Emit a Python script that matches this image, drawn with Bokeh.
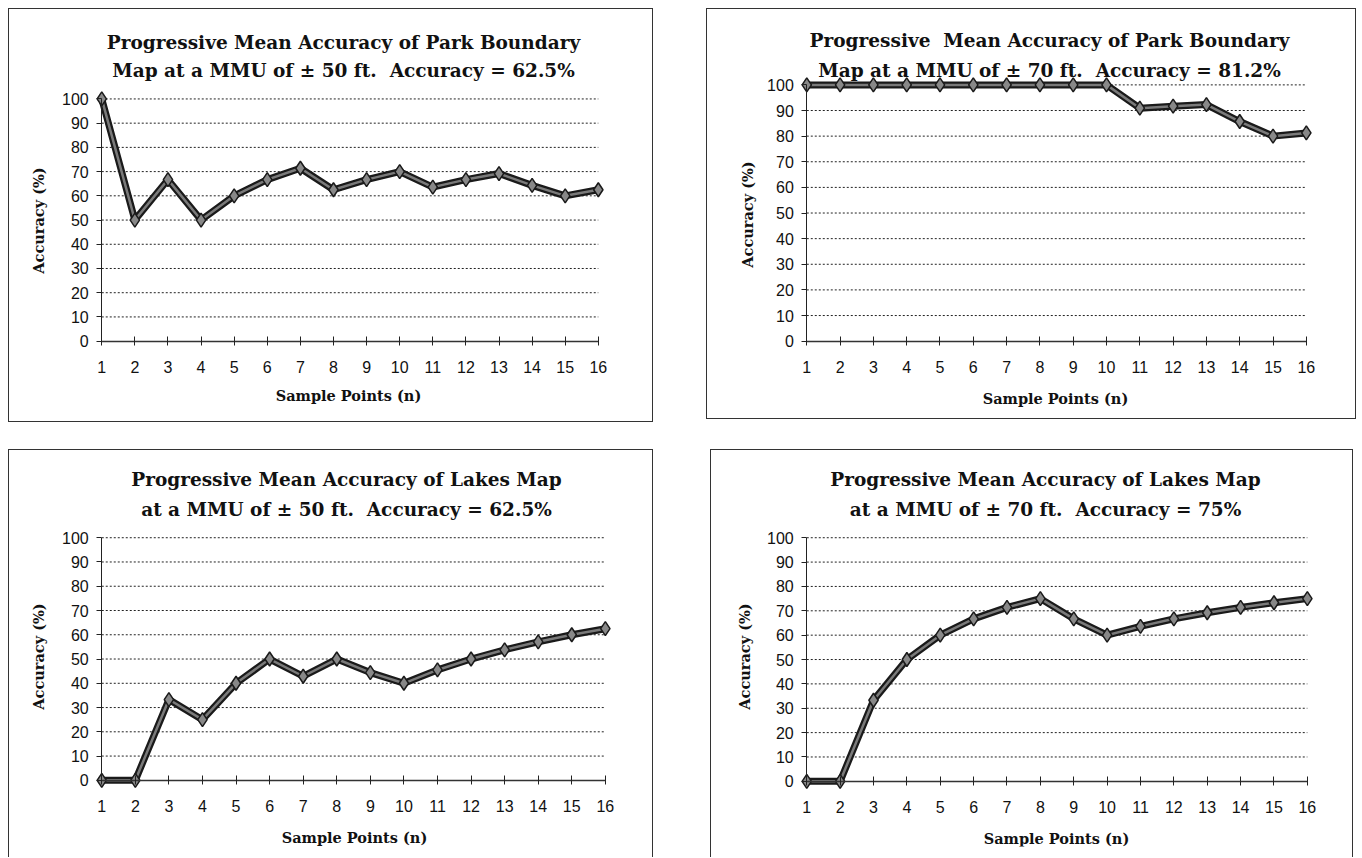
from bokeh.plotting import figure
from bokeh.models import Range1d, FixedTicker, Label, LinearAxis
from bokeh.core.properties import value
from bokeh.embed import file_html
from bokeh.resources import INLINE

# ---------------- data ----------------
sample_points = list(range(1, 17))
x_tick_labels = [str(v) for v in sample_points]
y_ticks = [0, 10, 20, 30, 40, 50, 60, 70, 80, 90, 100]
y_tick_labels = [str(v) for v in y_ticks]

park_50 = [100, 50, 66.7, 50, 60, 66.7, 71.4, 62.5, 66.7, 70, 63.6, 66.7, 69.2, 64.3, 60, 62.5]
park_70 = [100, 100, 100, 100, 100, 100, 100, 100, 100, 100, 90.9, 91.7, 92.3, 85.7, 80, 81.25]
lakes_50 = [0, 0, 33.3, 25, 40, 50, 42.9, 50, 44.4, 40, 45.5, 50, 53.8, 57.1, 60, 62.5]
lakes_70 = [0, 0, 33.3, 50, 60, 66.7, 71.4, 75, 66.7, 60, 63.6, 66.7, 69.2, 71.4, 73.3, 75]

NB = "\u00a0"
titles = [
    ("Progressive Mean Accuracy of Park Boundary", "Map at a MMU of \u00b1 50 ft." + NB + " Accuracy = 62.5%"),
    ("Progressive" + NB + " Mean Accuracy of Park Boundary", "Map at a MMU of \u00b1 70 ft." + NB + " Accuracy = 81.2%"),
    ("Progressive Mean Accuracy of Lakes Map", "at a MMU of \u00b1 50 ft." + NB + " Accuracy = 62.5%"),
    ("Progressive Mean Accuracy of Lakes Map", "at a MMU of \u00b1 70 ft." + NB + " Accuracy = 75%"),
]
x_title = "Sample Points (n)"
y_title = "Accuracy (%)"

SERIF = "DejaVu Serif"
SANS = "Liberation Sans"
INK = "#1a1a1a"
L_BORDER, B_BORDER = 12, 12   # small side panels holding only the axis lines/ticks


def make_panel(values, t1, t2, box, frame, title_pos, ylab_pos, xlab_pos, bottom_open=False):
    bl, bt, bw, bh = box              # panel box on page
    x1px, x16px, y100px, y0px = frame  # where x=1, x=16, y=100, y=0 land on page
    pxu = (x16px - x1px) / 15.0
    pyu = (y0px - y100px) / 100.0
    fl = bl + 1 + L_BORDER
    fr = bl + bw - 1
    ft = bt + 1
    fb = bt + bh - (0 if bottom_open else 1) - B_BORDER

    p = figure(width=bw, height=bh, output_backend="svg", toolbar_location=None,
               x_axis_type=None, y_axis_type=None, title=None,
               x_range=Range1d(1 - (x1px - fl) / pxu, 16 + (fr - x16px) / pxu),
               y_range=Range1d(0 - (fb - y0px) / pyu, 100 + (y100px - ft) / pyu),
               min_border_left=L_BORDER, min_border_right=0,
               min_border_top=0, min_border_bottom=B_BORDER)
    p.outline_line_color = None
    p.background_fill_color = "white"
    p.border_fill_color = "white"
    p.xgrid.visible = False
    p.ygrid.visible = False

    # dotted horizontal grid from x=1 to x=16
    gy = y_ticks[1:]
    p.segment(x0=[sample_points[0]] * len(gy), x1=[sample_points[-1]] * len(gy), y0=gy, y1=gy,
              line_color="#222", line_width=1, line_dash="2 2")

    # axis lines and ticks at x=1 and y=0
    ly = LinearAxis(ticker=FixedTicker(ticks=y_ticks), fixed_location=1, bounds=(0, 100),
                    major_tick_out=5, major_tick_in=0, minor_tick_line_color=None,
                    axis_line_color="#222", major_tick_line_color="#222",
                    major_label_text_font_size="1px", major_label_text_alpha=0,
                    major_label_standoff=0)
    p.add_layout(ly, "left")
    lx = LinearAxis(ticker=FixedTicker(ticks=sample_points), fixed_location=0, bounds=(1, 16),
                    major_tick_out=4, major_tick_in=5, minor_tick_line_color=None,
                    axis_line_color="#333", axis_line_width=1.5, major_tick_line_color="#222",
                    major_label_text_font_size="1px", major_label_text_alpha=0,
                    major_label_standoff=0)
    p.add_layout(lx, "below")

    # tick labels
    p.text(x=[sample_points[0]] * len(y_ticks), y=y_ticks, text=y_tick_labels,
           x_offset=-13, text_align="right", text_baseline="middle",
           text_font=value(SANS), text_font_size="16px", text_color="#111")
    p.text(x=sample_points, y=[y_ticks[0]] * len(sample_points), text=x_tick_labels,
           y_offset=26, text_align="center", text_baseline="middle",
           text_font=value(SANS), text_font_size="16px", text_color="#111")

    # series: thick dark line with grey core, grey diamonds with dark edge
    p.line(sample_points, values, line_color=INK, line_width=7, line_join="round")
    p.line(sample_points, values, line_color="#7a7a7a", line_width=2.5, line_join="round")
    p.scatter(sample_points, values, marker="diamond", size=14,
              fill_color="#888888", line_color=INK, line_width=1.5)

    def lab(txt, cx, cy, size, angle=0):
        p.add_layout(Label(x=cx - fl, y=fb - cy, x_units="screen", y_units="screen", text=txt,
                           angle=angle, angle_units="deg",
                           text_align="center", text_baseline="middle", text_font=SERIF,
                           text_font_style="bold", text_font_size=size, text_color="#111"))

    cx, cy1, cy2 = title_pos
    lab(t1, cx, cy1, "18.5px")
    lab(t2, cx, cy2, "18.5px")
    lab(y_title, ylab_pos[0], ylab_pos[1], "14.5px", angle=90)
    lab(x_title, xlab_pos[0], xlab_pos[1], "14.5px")

    st = {"position": "absolute", "left": f"{bl}px", "top": f"{bt}px", "box-sizing": "border-box"}
    if bottom_open:
        st.update({"border-top": "1px solid #333", "border-left": "1px solid #333",
                   "border-right": "1px solid #333"})
    else:
        st.update({"border": "1px solid #333"})
    p.styles = st
    return p


p1 = make_panel(park_50, *titles[0], box=(8, 8, 645, 414), frame=(101, 596, 98, 339),
                title_pos=(343, 40, 68), ylab_pos=(38, 218), xlab_pos=(348, 393))
p2 = make_panel(park_70, *titles[1], box=(706, 8, 650, 411), frame=(806, 1304, 84, 339),
                title_pos=(1049, 38, 68), ylab_pos=(747, 212), xlab_pos=(1055, 396))
p3 = make_panel(lakes_50, *titles[2], box=(8, 449, 645, 408), frame=(101, 603, 537, 779),
                title_pos=(346, 478, 508), ylab_pos=(38, 655), xlab_pos=(354, 836), bottom_open=True)
p4 = make_panel(lakes_70, *titles[3], box=(710, 449, 643, 408), frame=(806, 1305, 537, 780),
                title_pos=(1045, 478, 508), ylab_pos=(744, 655), xlab_pos=(1056, 837), bottom_open=True)

open("out.html", "w").write(file_html([p1, p2, p3, p4], INLINE))
